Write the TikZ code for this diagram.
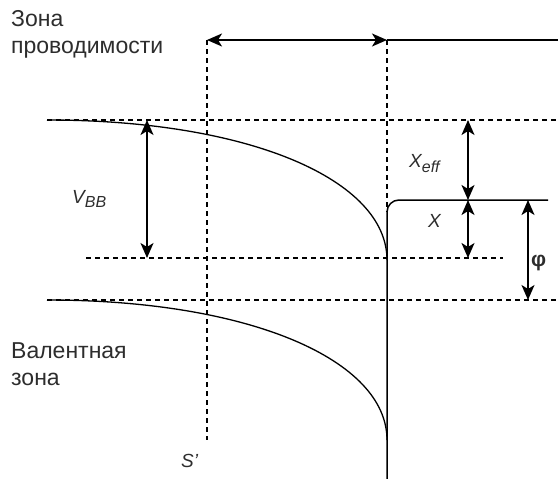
\documentclass[tikz,border=0pt]{standalone}
\usepackage{fontspec}
\setmainfont{Liberation Sans}
\usetikzlibrary{arrows.meta}
\definecolor{txt}{RGB}{45,45,45}
\tikzset{
  dline/.style={line width=1.2pt,dash pattern=on 5pt off 4pt},
  sline/.style={line width=1.5pt},
  dimarrow/.style={line width=1.6pt,{Stealth[length=15pt,width=13pt,inset=4pt]}-{Stealth[length=15pt,width=13pt,inset=4pt]}},
  bigtxt/.style={anchor=base west,inner sep=0pt,text=txt,font=\fontsize{23}{26}\selectfont},
  lbl/.style={anchor=base west,inner sep=0pt,text=txt,font=\fontsize{19}{22}\selectfont\itshape},
}
\begin{document}
\begin{tikzpicture}[x=1pt,y=-1pt]
\useasboundingbox (0,0) rectangle (558,479);
% coordinates
\coordinate (sTop) at (207,40);
\coordinate (sBot) at (207,440);
\coordinate (iTop) at (387,40);
\coordinate (rTop) at (558,40);
\coordinate (iKnee) at (387,212);
\coordinate (iBot) at (387,479);
\coordinate (hEnd) at (548,200);
\coordinate (d1L) at (47,120);
\coordinate (d1R) at (558,120);
\coordinate (d2L) at (86,258);
\coordinate (d2R) at (503,258);
\coordinate (d3L) at (47,300);
\coordinate (d3R) at (558,300);
\coordinate (cEnd) at (387,260);
\coordinate (vEnd) at (387,440);
\coordinate (vbT) at (147,120);
\coordinate (vbB) at (147,258);
\coordinate (xeT) at (468,120);
\coordinate (xeB) at (468,200);
\coordinate (xB) at (468,258);
\coordinate (phT) at (528,200);
\coordinate (phB) at (528,300);
% dashed lines
\draw[dline] (sTop) -- (sBot);
\draw[dline] (iTop) -- (iKnee);
\draw[dline] (d1L) -- (d1R);
\draw[dline] (d2L) -- (d2R);
\draw[dline] (d3L) -- (d3R);
% solid lines
\draw[sline] (iTop) -- (rTop);
\draw[sline] (iBot) -- (iKnee) to[out=90,in=180] (399,200) -- (hEnd);
\draw[line width=1.3pt] (d1L) .. controls (250,120) and (387,180) .. (cEnd);
\draw[line width=1.3pt] (d3L) .. controls (250,300) and (387,360) .. (vEnd);
% arrows
\draw[dimarrow] (sTop) -- (iTop);
\draw[dimarrow] (vbT) -- (vbB);
\draw[dimarrow] (xeT) -- (xeB);
\draw[dimarrow] (xeB) -- (xB);
\draw[dimarrow] (phT) -- (phB);
% texts
\node[bigtxt] (t1) at (11,27) {Зона};
\node[bigtxt] (t2) at (11,53) {проводимости};
\node[bigtxt] (t3) at (11,358) {Валентная};
\node[bigtxt] (t4) at (11,385) {зона};
\node[lbl] (vbb) at (72,203) {V\raisebox{-4pt}{\fontsize{16}{16}\selectfont BB}};
\node[lbl] (xeff) at (409,167) {X\raisebox{-5pt}{\fontsize{16}{16}\selectfont eff}};
\node[lbl] (xx) at (428,227) {X};
\node[anchor=base west,inner sep=0pt,text=txt,font=\fontsize{21}{22}\selectfont\bfseries] (phi) at (531,266) {φ};
\node[lbl] (ss) at (181,467) {S'};
\end{tikzpicture}
\end{document}
